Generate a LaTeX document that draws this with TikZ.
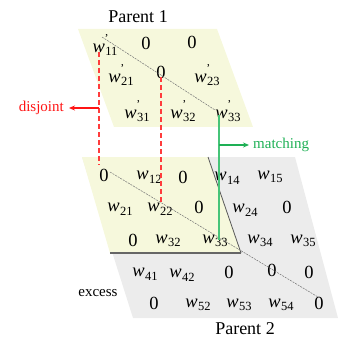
\documentclass[tikz,border=0pt]{standalone}
\usepackage{fontspec}
\setmainfont{Liberation Serif}
\usetikzlibrary{arrows.meta}
\definecolor{paleyel}{RGB}{246,248,220}
\definecolor{palegray}{RGB}{236,236,236}
\definecolor{txtred}{RGB}{255,20,20}
\definecolor{dshred}{RGB}{255,60,60}
\definecolor{txtgreen}{RGB}{30,176,85}
\definecolor{lingreen}{RGB}{70,196,120}
\newcommand\subt[1]{\raisebox{-0.42ex}{\fontsize{12.5}{12.5}\selectfont #1}}
\newcommand\ww[1]{\textit{w}\kern0.3pt\subt{#1}}
\newcommand\wpr[1]{\textit{w}\rlap{\raisebox{1.2ex}{\fontsize{12}{12}\selectfont\kern-0.5pt '}}\kern0.3pt\subt{#1}}
\begin{document}
\begin{tikzpicture}[x=1pt,y=-1pt,
  ent/.style={inner sep=0pt,font=\fontsize{18.5}{18.5}\selectfont},
  lbl/.style={inner sep=0pt,font=\fontsize{15}{15}\selectfont},
  ttl/.style={inner sep=0pt,font=\fontsize{18}{18}\selectfont},
  diag/.style={draw=gray!90!black,dash pattern=on 2pt off 1pt,line width=0.5pt}]
\useasboundingbox (0,0) rectangle (338,339);
% planes
\fill[palegray] (82,157) -- (295,157) -- (338,318) -- (133,318) -- cycle;
\fill[paleyel] (82,157) -- (208,157) -- (241,253) -- (110,253) -- cycle;
\fill[paleyel] (78,29) -- (217,29) -- (253,127) -- (114,127) -- cycle;
\draw[gray!70!black,line width=0.8pt] (208,157) -- (241,253);
\draw[gray!80!black,line width=1.3pt] (110,253) -- (241,253);
% titles
\node[ttl] (p1) at (138,17) {Parent 1};
\node[ttl] (p2) at (245,329) {Parent 2};
\node[lbl] (exc) at (98,293) {excess};
% top matrix
\node[ent] (a11) at (105,45) {\wpr{11}};
\node[ent] (a12) at (146,43) {0};
\node[ent] (a13) at (192,42) {0};
\node[ent] (a21) at (121,75) {\wpr{21}};
\node[ent] (a22) at (161,72) {0};
\node[ent] (a23) at (207,75) {\wpr{23}};
\node[ent] (a31) at (137,111) {\wpr{31}};
\node[ent] (a32) at (183,111) {\wpr{32}};
\node[ent] (a33) at (228,111) {\wpr{33}};
% bottom matrix
\node[ent] (b11) at (104,175) {0};
\node[ent] (b12) at (149,177) {\ww{12}};
\node[ent] (b13) at (183,177) {0};
\node[ent] (b14) at (227,178) {\ww{14}};
\node[ent] (b15) at (270,177) {\ww{15}};
\node[ent] (b21) at (120,209) {\ww{21}};
\node[ent] (b22) at (160,209) {\ww{22}};
\node[ent] (b23) at (199,207) {0};
\node[ent] (b24) at (245,210) {\ww{24}};
\node[ent] (b25) at (287,207) {0};
\node[ent] (b31) at (133,240) {0};
\node[ent] (b32) at (168,241) {\ww{32}};
\node[ent] (b33) at (215,241) {\ww{33}};
\node[ent] (b34) at (260,241) {\ww{34}};
\node[ent] (b35) at (303,241) {\ww{35}};
\node[ent] (b41) at (145,274) {\ww{41}};
\node[ent] (b42) at (182,275) {\ww{42}};
\node[ent] (b43) at (229,272) {0};
\node[ent] (b44) at (272,270) {0};
\node[ent] (b45) at (309,272) {0};
\node[ent] (b51) at (154,303) {0};
\node[ent] (b52) at (198,305) {\ww{52}};
\node[ent] (b53) at (239,305) {\ww{53}};
\node[ent] (b54) at (281,305) {\ww{54}};
\node[ent] (b55) at (319,303) {0};
% diagonals
\coordinate (d1s) at (102,37);
\coordinate (d1e) at (215,110);
\draw[diag] (d1s) -- (d1e);
\coordinate (d2s) at (110,172);
\coordinate (d2e) at (318,297);
\draw[diag] (d2s) -- (d2e);
% disjoint
\coordinate (r1t) at (99,52);
\coordinate (r1b) at (99,165);
\coordinate (r1m) at (99,108);
\coordinate (r2t) at (161,77);
\coordinate (r2b) at (161,202);
\draw[draw=dshred,line width=1.3pt,dash pattern=on 5pt off 3pt] (r1t) -- (r1b);
\draw[draw=dshred,line width=1.3pt,dash pattern=on 5pt off 3pt] (r2t) -- (r2b);
\node[lbl,text=txtred,anchor=east] (dis) at (64,108) {disjoint};
\draw[draw=txtred,fill=txtred,line width=1.2pt,-{Stealth[length=6pt,width=5pt]}] (r1m) -- ([xshift=5pt]dis.east);
% matching
\coordinate (gt) at (219,115);
\coordinate (gb) at (219,240);
\coordinate (gm) at (219,145);
\draw[draw=lingreen,line width=1.5pt] (gt) -- (gb);
\node[lbl,text=txtgreen,anchor=west] (mat) at (253,145) {matching};
\draw[draw=txtgreen,fill=txtgreen,line width=1.2pt,-{Stealth[length=6pt,width=5pt]}] (gm) -- ([xshift=-4pt]mat.west);
\end{tikzpicture}
\end{document}
